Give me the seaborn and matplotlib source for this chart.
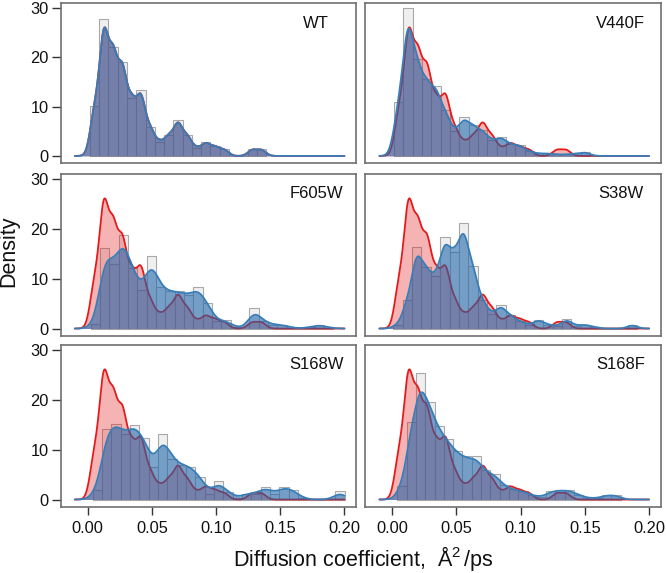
import numpy as np
import pandas as pd
import matplotlib
matplotlib.use("Agg")
import matplotlib.pyplot as plt
import seaborn as sns

# ---------------- data ----------------
panels = ["WT", "V440F", "F605W", "S38W", "S168W", "S168F"]

# histogram bar heights (density) per variant
wt_heights = [10.2, 27.8, 22.1, 19.1, 11.7, 13.3, 5.8, 2.9, 4.3, 7.3, 4.3, 1.6,
              2.8, 2.0, 1.4, 0.0, 0.0, 1.4, 1.4]
v440f_heights = [11.0, 30.0, 19.6, 15.6, 14.2, 9.3, 5.0, 7.9, 6.3, 5.3, 3.2, 3.9,
                 2.4, 2.2, 0.9, 0.5, 0.5, 0.3, 0.3, 0.5, 0.8]
f605w_heights = [0.9, 16.2, 12.9, 18.8, 12.1, 7.7, 14.6, 8.4, 7.5, 7.5, 6.7, 8.4,
                 5.2, 1.5, 1.7, 0.3, 0.0, 4.2, 1.5, 0.8, 0.8, 0.2, 0.0, 0.3, 0.8, 0.2]
s38w_heights = [0.8, 5.7, 16.4, 12.4, 10.5, 18.3, 15.3, 21.1, 12.6, 5.7, 3.0, 4.7,
                2.7, 1.5, 0.8, 1.8, 0.8, 0.5, 1.9, 0.6, 0.8, 0.3, 0.0, 0.0, 0.0, 0.8]
s168w_heights = [1.9, 14.1, 15.1, 13.1, 14.9, 12.3, 6.6, 13.1, 8.2, 6.9, 6.6, 4.6,
                 1.2, 3.7, 1.5, 0.3, 1.2, 1.2, 2.5, 1.2, 2.5, 1.9, 0.3, 0.0, 0.0, 0.0, 1.7]
s168f_heights = [2.8, 15.6, 25.3, 19.5, 14.7, 12.1, 9.7, 8.7, 8.7, 5.9, 5.2, 2.9,
                 2.1, 1.7, 0.9, 0.5, 1.7, 1.9, 1.9, 1.0, 0.3, 0.3, 0.9, 0.9]

# first bin edge and bin width of each histogram (Å²/ps)
bin_starts = [0.0018, 0.0013, 0.0023, 0.0008, 0.0040, 0.0040]
bin_widths = [0.00722, 0.00727, 0.00727, 0.00730, 0.00726, 0.00724]

# KDE smoothing bandwidth of each variant (Å²/ps)
kde_bandwidths = [0.0035, 0.0040, 0.0050, 0.0040, 0.0050, 0.0045]

heights_list = [wt_heights, v440f_heights, f605w_heights, s38w_heights,
                s168w_heights, s168f_heights]

x_ticks = [0.00, 0.05, 0.10, 0.15, 0.20]
x_tick_labels = ["0.00", "0.05", "0.10", "0.15", "0.20"]
y_ticks = [0, 10, 20, 30]

# ---------------- style ----------------
sns.set_style("white")
plt.rcParams["font.family"] = ["Liberation Sans", "DejaVu Sans"]
plt.rcParams["mathtext.fontset"] = "custom"
plt.rcParams["mathtext.rm"] = "Liberation Sans"
plt.rcParams["mathtext.it"] = "Liberation Sans"

RED = "#E41A1C"
BLUE_LINE = "#377EB8"
BLUE_FILL = "#1E64AA"

fig = plt.figure(figsize=(6.66, 5.73), dpi=100)

col_left = [0.0911, 0.5485]
col_w = 0.4435
row_bottom = [0.7150, 0.4136, 0.1152]
row_h = [0.2792, 0.2827, 0.2827]


def make_frame(heights, start, width):
    n = len(heights)
    centers = start + width * (np.arange(n) + 0.5)
    df = pd.DataFrame({"x": centers, "h": np.asarray(heights, float)})
    return df, (start, start + width * n), width


frames = {}
for name, h, s, w, bw in zip(panels, heights_list, bin_starts, bin_widths,
                             kde_bandwidths):
    df, brange, bwid = make_frame(h, s, w)
    frames[name] = (df, brange, bwid, bw)


def kde(ax, df, bw, line_color, fill_color, alpha, z):
    std = float(np.sqrt(np.cov(df["x"].to_numpy(), aweights=df["h"].to_numpy())))
    fac = bw / std
    common = dict(data=df, x="x", weights="h", bw_method=fac, cut=20,
                  clip=(-0.01, 0.2), gridsize=700, ax=ax)
    sns.kdeplot(fill=True, color=fill_color, alpha=alpha, linewidth=0,
                zorder=z, **common)
    sns.kdeplot(fill=False, color=line_color, linewidth=1.3, zorder=z + 0.05,
                **common)


wt_df, _, _, wt_bw = frames["WT"]

for i, name in enumerate(panels):
    r, c = divmod(i, 2)
    ax = fig.add_axes([col_left[c], row_bottom[r], col_w, row_h[r]])
    df, brange, bwid, bw = frames[name]
    sns.histplot(data=df, x="x", weights="h", binwidth=bwid, binrange=brange,
                 stat="count", color="#efefef", edgecolor="#a8a8a8",
                 linewidth=0.8, alpha=1.0, zorder=0.5, ax=ax)
    kde(ax, wt_df, wt_bw, RED, RED, 0.33, 1.0)
    kde(ax, df, bw, BLUE_LINE, BLUE_FILL, 0.58, 1.2)

    ax.set_xlim(-0.021, 0.209)
    ax.set_ylim(-1.5, 31.0)
    ax.set_xlabel("")
    ax.set_ylabel("")
    ax.text(0.178, 27.0, name, ha="center", va="center", fontsize=12,
            color="#111111", zorder=3)
    for sp in ax.spines.values():
        sp.set_visible(True)
        sp.set_color("#707070")
        sp.set_linewidth(1.2)
    ax.tick_params(axis="both", direction="out", color="#333333", width=1.0,
                   labelsize=11.8, labelcolor="#111111")
    if c == 0:
        ax.set_yticks(y_ticks)
        ax.tick_params(axis="y", length=6.5, pad=2, left=True)
    else:
        ax.set_yticks([])
    if r == 2:
        ax.set_xticks(x_ticks)
        ax.set_xticklabels(x_tick_labels)
        ax.tick_params(axis="x", length=6, pad=4, bottom=True)
    else:
        ax.set_xticks([])

fig.text(0.0135, 0.562, "Density", rotation=90, ha="center", va="center",
         fontsize=15.5, color="#111111")
fig.text(0.545, 0.013, r"Diffusion coefficient,  Å$^{2}\,$/ps", ha="center",
         va="baseline", fontsize=15.5, color="#111111")

fig.savefig("out.png", dpi=100)
